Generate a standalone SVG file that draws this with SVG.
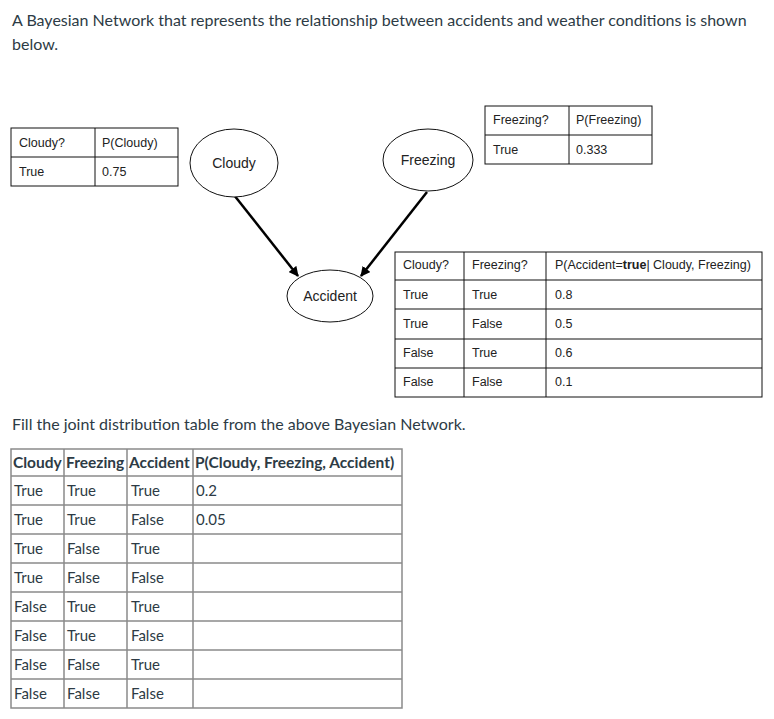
<svg xmlns="http://www.w3.org/2000/svg" width="774" height="719" viewBox="0 0 774 719">
<defs>
<style>
.t{font-family:Lato,"Liberation Sans",sans-serif;fill:#2d3b45;font-size:15px}
.h{font-family:Lato,"Liberation Sans",sans-serif;fill:#2d3b45;font-size:16px}
.th{font-family:Lato,"Liberation Sans",sans-serif;fill:#2d3b45;font-size:15.5px;font-weight:bold}
.c{font-family:"Liberation Sans",Carlito,sans-serif;fill:#222;font-size:12.5px}
.n{font-family:"Liberation Sans",sans-serif;fill:#222;font-size:14px;text-anchor:middle}
.g{fill:none;stroke:#111;stroke-width:1}
.jt{fill:none;stroke:#8a8a8a;stroke-width:1.5}
.ell{fill:#fff;stroke:#111;stroke-width:1}
.edge{stroke:#000;stroke-width:2.5;fill:none}
</style>
<marker id="ah" viewBox="0 0 10 10" refX="9" refY="5" markerWidth="4" markerHeight="4" orient="auto" markerUnits="strokeWidth">
<path d="M0,0 L10,5 L0,10 z" fill="#000"/>
</marker>
</defs>
<rect width="774" height="719" fill="#fff"/>
<text class="h" x="12" y="26">A Bayesian Network that represents the relationship between accidents and weather conditions is shown</text>
<text class="h" x="12" y="50">below.</text>

<g id="cloudy-table">
<rect class="g" x="11" y="128" width="167" height="58"/>
<line class="g" x1="95" y1="128" x2="95" y2="186"/>
<line class="g" x1="11" y1="157" x2="178" y2="157"/>
<text class="c" x="19" y="147">Cloudy?</text>
<text class="c" x="102" y="147">P(Cloudy)</text>
<text class="c" x="19" y="176">True</text>
<text class="c" x="102" y="176">0.75</text>
</g>

<g id="freezing-table">
<rect class="g" x="485" y="106" width="167" height="58"/>
<line class="g" x1="569" y1="106" x2="569" y2="164"/>
<line class="g" x1="485" y1="135" x2="652" y2="135"/>
<text class="c" x="493" y="124">Freezing?</text>
<text class="c" x="576" y="124">P(Freezing)</text>
<text class="c" x="493" y="154">True</text>
<text class="c" x="576" y="154">0.333</text>
</g>

<g id="accident-table">
<rect class="g" x="395" y="252" width="367" height="145"/>
<line class="g" x1="464" y1="252" x2="464" y2="397"/>
<line class="g" x1="546" y1="252" x2="546" y2="397"/>
<line class="g" x1="395" y1="280" x2="762" y2="280"/>
<line class="g" x1="395" y1="309" x2="762" y2="309"/>
<line class="g" x1="395" y1="339" x2="762" y2="339"/>
<line class="g" x1="395" y1="368" x2="762" y2="368"/>
<text class="c" x="403" y="269">Cloudy?</text>
<text class="c" x="472" y="269">Freezing?</text>
<text class="c" x="555" y="269">P(Accident=<tspan font-weight="bold">true</tspan>| Cloudy, Freezing)</text>
<text class="c" x="403" y="299">True</text><text class="c" x="472" y="299">True</text><text class="c" x="555" y="299">0.8</text>
<text class="c" x="403" y="328">True</text><text class="c" x="472" y="328">False</text><text class="c" x="555" y="328">0.5</text>
<text class="c" x="403" y="357">False</text><text class="c" x="472" y="357">True</text><text class="c" x="555" y="357">0.6</text>
<text class="c" x="403" y="386">False</text><text class="c" x="472" y="386">False</text><text class="c" x="555" y="386">0.1</text>
</g>

<g id="connectors">
<line class="edge" x1="234" y1="195" x2="298" y2="276" marker-end="url(#ah)"/>
<line class="edge" x1="427" y1="192" x2="361" y2="276" marker-end="url(#ah)"/>
</g>

<g id="node-cloudy">
<ellipse class="ell" cx="234" cy="163" rx="44" ry="34"/>
<text class="n" x="234" y="168">Cloudy</text>
</g>
<g id="node-freezing">
<ellipse class="ell" cx="428" cy="160" rx="45" ry="31"/>
<text class="n" x="428" y="165">Freezing</text>
</g>
<g id="node-accident">
<ellipse class="ell" cx="330" cy="296" rx="43" ry="26"/>
<text class="n" x="330" y="301">Accident</text>
</g>

<text class="h" x="12" y="430">Fill the joint distribution table from the above Bayesian Network.</text>

<g id="joint-table">
<rect class="jt" x="11" y="449" width="391" height="259"/>
<line class="jt" x1="64" y1="449" x2="64" y2="708"/>
<line class="jt" x1="127" y1="449" x2="127" y2="708"/>
<line class="jt" x1="193" y1="449" x2="193" y2="708"/>
<line class="jt" x1="11" y1="476" x2="402" y2="476"/>
<line class="jt" x1="11" y1="505" x2="402" y2="505"/>
<line class="jt" x1="11" y1="534" x2="402" y2="534"/>
<line class="jt" x1="11" y1="563" x2="402" y2="563"/>
<line class="jt" x1="11" y1="592" x2="402" y2="592"/>
<line class="jt" x1="11" y1="621" x2="402" y2="621"/>
<line class="jt" x1="11" y1="650" x2="402" y2="650"/>
<line class="jt" x1="11" y1="679" x2="402" y2="679"/>
<text class="th" x="13" y="468">Cloudy</text>
<text class="th" x="66" y="468">Freezing</text>
<text class="th" x="129" y="468">Accident</text>
<text class="th" x="195" y="468">P(Cloudy, Freezing, Accident)</text>
<text class="t" x="14" y="496">True</text><text class="t" x="67" y="496">True</text><text class="t" x="131" y="496">True</text><text class="t" x="196" y="496">0.2</text>
<text class="t" x="14" y="525">True</text><text class="t" x="67" y="525">True</text><text class="t" x="131" y="525">False</text><text class="t" x="196" y="525">0.05</text>
<text class="t" x="14" y="554">True</text><text class="t" x="67" y="554">False</text><text class="t" x="131" y="554">True</text>
<text class="t" x="14" y="583">True</text><text class="t" x="67" y="583">False</text><text class="t" x="131" y="583">False</text>
<text class="t" x="14" y="612">False</text><text class="t" x="67" y="612">True</text><text class="t" x="131" y="612">True</text>
<text class="t" x="14" y="641">False</text><text class="t" x="67" y="641">True</text><text class="t" x="131" y="641">False</text>
<text class="t" x="14" y="670">False</text><text class="t" x="67" y="670">False</text><text class="t" x="131" y="670">True</text>
<text class="t" x="14" y="699">False</text><text class="t" x="67" y="699">False</text><text class="t" x="131" y="699">False</text>
</g>
</svg>
